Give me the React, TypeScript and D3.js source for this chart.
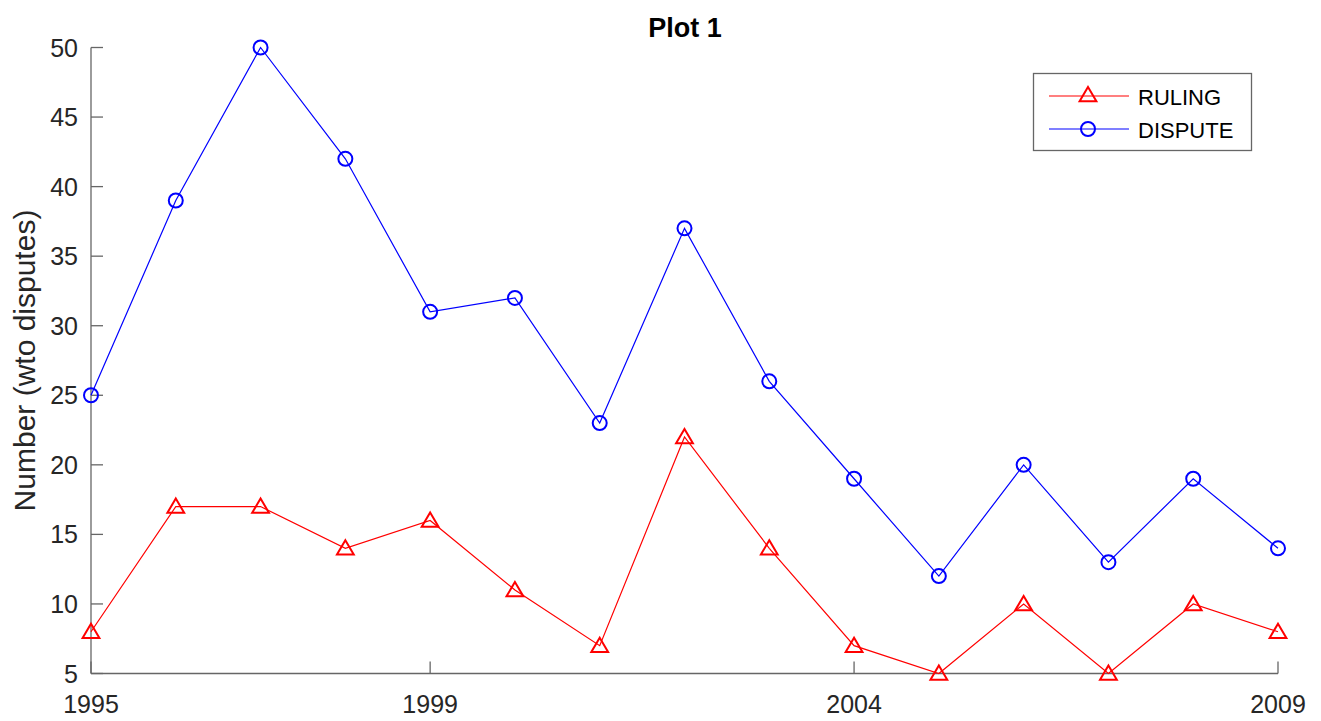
import React from "react";
import * as d3 from "d3";

const years = [1995, 1996, 1997, 1998, 1999, 2000, 2001, 2002, 2003, 2004, 2005, 2006, 2007, 2008, 2009];
const ruling = [8, 17, 17, 14, 16, 11, 7, 22, 14, 7, 5, 10, 5, 10, 8];
const dispute = [25, 39, 50, 42, 31, 32, 23, 37, 26, 19, 12, 20, 13, 19, 14];
const xTicks = [1995, 1999, 2004, 2009];
const yTicks = [5, 10, 15, 20, 25, 30, 35, 40, 45, 50];

const W = 1321, H = 721;
const L = 91, R = 1278, T = 47.5, B = 673.5;
const FONT = "'Liberation Sans', Arial, Helvetica, sans-serif";
const AX = "#666666";
const TXT = "#262626";

export default function App() {
  const x = d3.scaleLinear().domain([1995, 2009]).range([L, R]);
  const y = d3.scaleLinear().domain([5, 50]).range([B, T]);
  const line = d3.line<number>().x((_, i) => x(years[i])).y((d) => y(d));
  const tri = (cx: number, cy: number, s = 8) =>
    `M${cx},${cy - s}L${cx + s * 1.05},${cy + s * 0.78}L${cx - s * 1.05},${cy + s * 0.78}Z`;

  return (
    <svg width={W} height={H} style={{ position: "absolute", left: 0, top: 0, background: "#fff" }}>
      <text x={685} y={37} textAnchor="middle" fontFamily={FONT} fontWeight="bold" fontSize={27} fill="#000">Plot 1</text>
      {/* axes */}
      <line x1={L} y1={T} x2={L} y2={B} stroke={AX} strokeWidth={1.3} />
      <line x1={L} y1={B} x2={R} y2={B} stroke={AX} strokeWidth={1.3} />
      {yTicks.map((t) => (
        <g key={"y" + t}>
          <line x1={L} x2={L + 12} y1={y(t)} y2={y(t)} stroke={AX} strokeWidth={1.3} />
          <text x={L - 13} y={y(t) + 9} textAnchor="end" fontFamily={FONT} fontSize={25} fill={TXT}>{t}</text>
        </g>
      ))}
      {xTicks.map((t) => (
        <g key={"x" + t}>
          <line x1={x(t)} x2={x(t)} y1={B} y2={B - 12} stroke={AX} strokeWidth={1.3} />
          <text x={x(t)} y={B + 39} textAnchor="middle" fontFamily={FONT} fontSize={25} fill={TXT}>{t}</text>
        </g>
      ))}
      <text transform={`translate(35,${(T + B) / 2}) rotate(-90)`} textAnchor="middle" fontFamily={FONT} fontSize={30} fill={TXT}>Number (wto disputes)</text>
      {/* series */}
      <path d={line(ruling) || ""} fill="none" stroke="#ff0000" strokeWidth={1.2} />
      {ruling.map((v, i) => (
        <path key={"r" + i} d={tri(x(years[i]), y(v))} fill="none" stroke="#ff0000" strokeWidth={2} />
      ))}
      <path d={line(dispute) || ""} fill="none" stroke="#0000ff" strokeWidth={1.2} />
      {dispute.map((v, i) => (
        <circle key={"d" + i} cx={x(years[i])} cy={y(v)} r={7} fill="none" stroke="#0000ff" strokeWidth={2} />
      ))}
      {/* legend */}
      <rect x={1033.5} y={73.5} width={218} height={77} fill="#fff" stroke={AX} strokeWidth={1.3} />
      <line x1={1049} x2={1129} y1={96} y2={96} stroke="#ff0000" strokeWidth={1.2} />
      <path d={tri(1088, 95)} fill="none" stroke="#ff0000" strokeWidth={2} />
      <text x={1138} y={105} fontFamily={FONT} fontSize={22} fill="#000">RULING</text>
      <line x1={1049} x2={1129} y1={129} y2={129} stroke="#0000ff" strokeWidth={1.2} />
      <circle cx={1088} cy={129} r={7} fill="none" stroke="#0000ff" strokeWidth={2} />
      <text x={1138} y={138} fontFamily={FONT} fontSize={22} fill="#000">DISPUTE</text>
    </svg>
  );
}
